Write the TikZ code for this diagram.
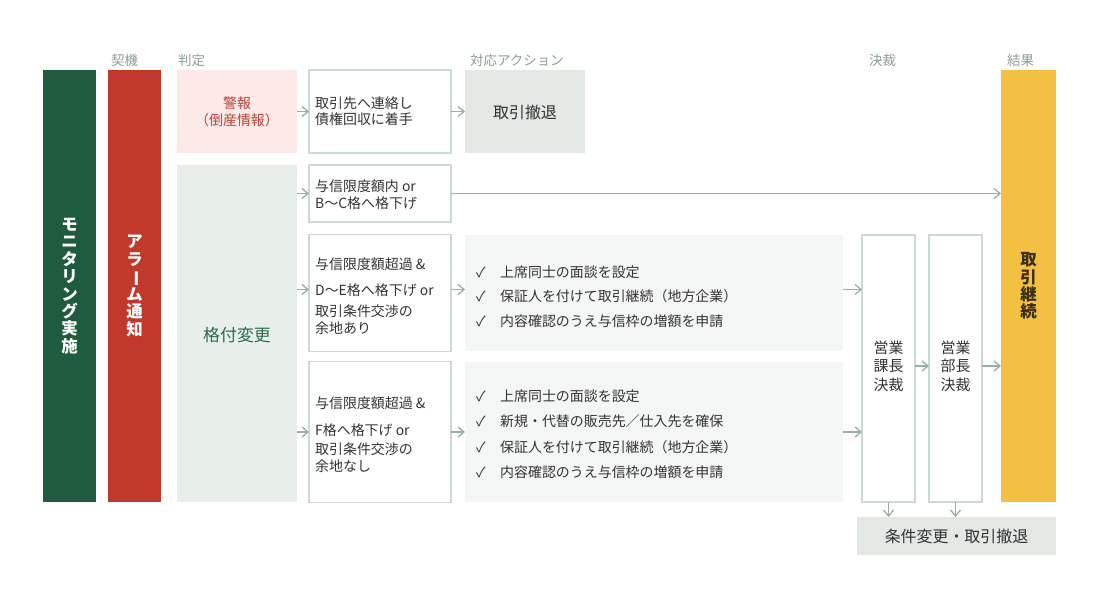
\documentclass[tikz,border=0pt]{standalone}
\usepackage{fontspec}
\usepackage{graphicx}
\setmainfont{Noto Sans CJK JP}
\usetikzlibrary{arrows.meta}
\definecolor{mongreen}{HTML}{1F5B3D}
\definecolor{alarmred}{HTML}{C0392B}
\definecolor{pinkbg}{HTML}{FDE9E7}
\definecolor{pinktext}{HTML}{B5433A}
\definecolor{lgreenbg}{HTML}{E8EFEA}
\definecolor{kakutext}{HTML}{2F6B4A}
\definecolor{graybg}{HTML}{E3E8E4}
\definecolor{lightbg}{HTML}{F4F6F5}
\definecolor{boxline}{HTML}{CDD8D2}
\definecolor{resyellow}{HTML}{F4C042}
\definecolor{restext}{HTML}{3A2F17}
\definecolor{arrc}{HTML}{9AAFA3}
\definecolor{hdrc}{HTML}{8C9E93}
\definecolor{bodyc}{HTML}{333333}
\newcommand{\vbar}{\rotatebox[origin=c]{-90}{ー}}
\newcommand{\chk}{\makebox[24bp][l]{✓}}
\begin{document}
\begin{tikzpicture}[x=1bp,y=-1bp,
  rect/.style={inner sep=0pt, outer sep=0pt},
  obox/.style={rect, draw=boxline, line width=1.3bp, fill=white},
  hdr/.style={text=hdrc, font=\fontsize{13.5}{13.5}\selectfont, anchor=west, inner sep=0pt},
  txt/.style={text=bodyc, font=\fontsize{14}{17.5}\selectfont, anchor=west, align=left, inner sep=0pt},
  vtxt/.style={text=white, font=\bfseries\fontsize{16.5}{17.5}\selectfont, align=center, inner sep=0pt},
  arr/.style={draw=arrc, line width=1.5bp, -{Straight Barb[length=6bp, width=10bp, line width=1.3bp]}}
]
\useasboundingbox (0,0) rectangle (1100,591);
\fill[white] (0,0) rectangle (1100,591);

% column headers
\node[hdr] (h1) at (111,60) {契機};
\node[hdr] (h2) at (178,60) {判定};
\node[hdr] (h3) at (470,60) {対応アクション};
\node[hdr] (h4) at (869,60) {決裁};
\node[hdr] (h5) at (1007,60) {結果};

% vertical bars
\node[rect, fill=mongreen, minimum width=53bp, minimum height=432bp] (mon) at (69.5,286) {};
\node[vtxt] (mont) at (mon.center) {モ\\ニ\\タ\\リ\\ン\\グ\\実\\施};
\node[rect, fill=alarmred, minimum width=53bp, minimum height=432bp] (alm) at (134.5,286) {};
\node[vtxt] (almt) at (alm.center) {ア\\ラ\\\vbar\\ム\\通\\知};

% judgement
\node[rect, fill=pinkbg, minimum width=120bp, minimum height=83bp] (keiho) at (237,111.5) {};
\node[text=pinktext, font=\fontsize{14}{17}\selectfont, align=center, inner sep=0pt] (keihot) at (237,111.5) {警報\\（倒産情報）};
\node[rect, fill=lgreenbg, minimum width=120bp, minimum height=337bp] (kaku) at (237,333.5) {};
\node[text=kakutext, font=\fontsize{17}{17}\selectfont, inner sep=0pt] (kakut) at (237,335) {格付変更};

% condition boxes
\node[obox, minimum width=142bp, minimum height=83bp] (b1) at (380,111.5) {};
\node[txt, font=\fontsize{14}{16.5}\selectfont] (b1t) at (315,111.5) {取引先へ連絡し\\債権回収に着手};
\node[obox, minimum width=142bp, minimum height=57bp] (b2) at (380,193.5) {};
\node[txt] (b2t) at (315,194.5) {与信限度額内 or\\B〜C格へ格下げ};
\node[obox, minimum width=142bp, minimum height=117bp] (b3) at (380,293) {};
\node[txt] (b3a) at (315,264.5) {与信限度額超過 \&};
\node[txt] (b3b) at (315,290) {D〜E格へ格下げ or};
\node[txt] (b3c) at (315,311) {取引条件交渉の};
\node[txt] (b3d) at (315,328) {余地あり};
\node[obox, minimum width=142bp, minimum height=141bp] (b4) at (380,432) {};
\node[txt] (b4a) at (315,403.5) {与信限度額超過 \&};
\node[txt] (b4b) at (315,430) {F格へ格下げ or};
\node[txt] (b4c) at (315,449.5) {取引条件交渉の};
\node[txt] (b4d) at (315,466.5) {余地なし};

% actions
\node[rect, fill=graybg, minimum width=120bp, minimum height=83bp] (tt) at (525,111.5) {};
\node[text=bodyc, font=\fontsize{16}{16}\selectfont, inner sep=0pt] (ttt) at (525,112) {取引撤退};
\node[rect, fill=lightbg, minimum width=378bp, minimum height=116bp] (g3) at (654,293) {};
\node[txt] (c31) at (476,272) {\chk 上席同士の面談を設定};
\node[txt] (c32) at (476,296.5) {\chk 保証人を付けて取引継続（地方企業）};
\node[txt] (c33) at (476,321.5) {\chk 内容確認のうえ与信枠の増額を申請};
\node[rect, fill=lightbg, minimum width=378bp, minimum height=140bp] (g4) at (654,432) {};
\node[txt] (c41) at (476,396.5) {\chk 上席同士の面談を設定};
\node[txt] (c42) at (476,421.5) {\chk 新規・代替の販売先／仕入先を確保};
\node[txt] (c43) at (476,447) {\chk 保証人を付けて取引継続（地方企業）};
\node[txt] (c44) at (476,472.5) {\chk 内容確認のうえ与信枠の増額を申請};

% approvals
\node[obox, minimum width=53bp, minimum height=267bp] (ka) at (888.5,368.5) {};
\node[text=bodyc, font=\fontsize{15}{18.5}\selectfont, align=center, inner sep=0pt] (kat) at (888.5,366) {営業\\課長\\決裁};
\node[obox, minimum width=53bp, minimum height=267bp] (bu) at (955.5,368.5) {};
\node[text=bodyc, font=\fontsize{15}{18.5}\selectfont, align=center, inner sep=0pt] (but) at (955.5,366) {営業\\部長\\決裁};

% result
\node[rect, fill=resyellow, minimum width=55bp, minimum height=432bp] (res) at (1028.5,286) {};
\node[vtxt, text=restext] (rest) at (res.center) {取\\引\\継\\続};
\node[rect, fill=graybg, minimum width=199bp, minimum height=38bp] (bot) at (956.5,536) {};
\node[text=bodyc, font=\fontsize{16}{16}\selectfont, inner sep=0pt] (bott) at (956.5,536) {条件変更・取引撤退};

% connectors
\coordinate (r3) at (0,289.5);
\coordinate (r4) at (0,432);
\coordinate (rm) at (0,366);
\draw[arr] (keiho.east) -- (b1.west);
\draw[arr] (b1.east) -- (tt.west);
\draw[arr] (kaku.east |- b2.west) -- (b2.west);
\draw[arr] (b2.east) -- (b2.east -| res.west);
\draw[arr] (kaku.east |- r3) -- (b3.west |- r3);
\draw[arr] (b3.east |- r3) -- (g3.west |- r3);
\draw[arr] (g3.east |- r3) -- (ka.west |- r3);
\draw[arr] (kaku.east |- r4) -- (b4.west |- r4);
\draw[arr] (b4.east |- r4) -- (g4.west |- r4);
\draw[arr] (g4.east |- r4) -- (ka.west |- r4);
\draw[arr] (ka.east |- rm) -- (bu.west |- rm);
\draw[arr] (bu.east |- rm) -- (res.west |- rm);
\draw[arr] (ka.south) -- (ka.south |- bot.north);
\draw[arr] (bu.south) -- (bu.south |- bot.north);
\end{tikzpicture}
\end{document}
